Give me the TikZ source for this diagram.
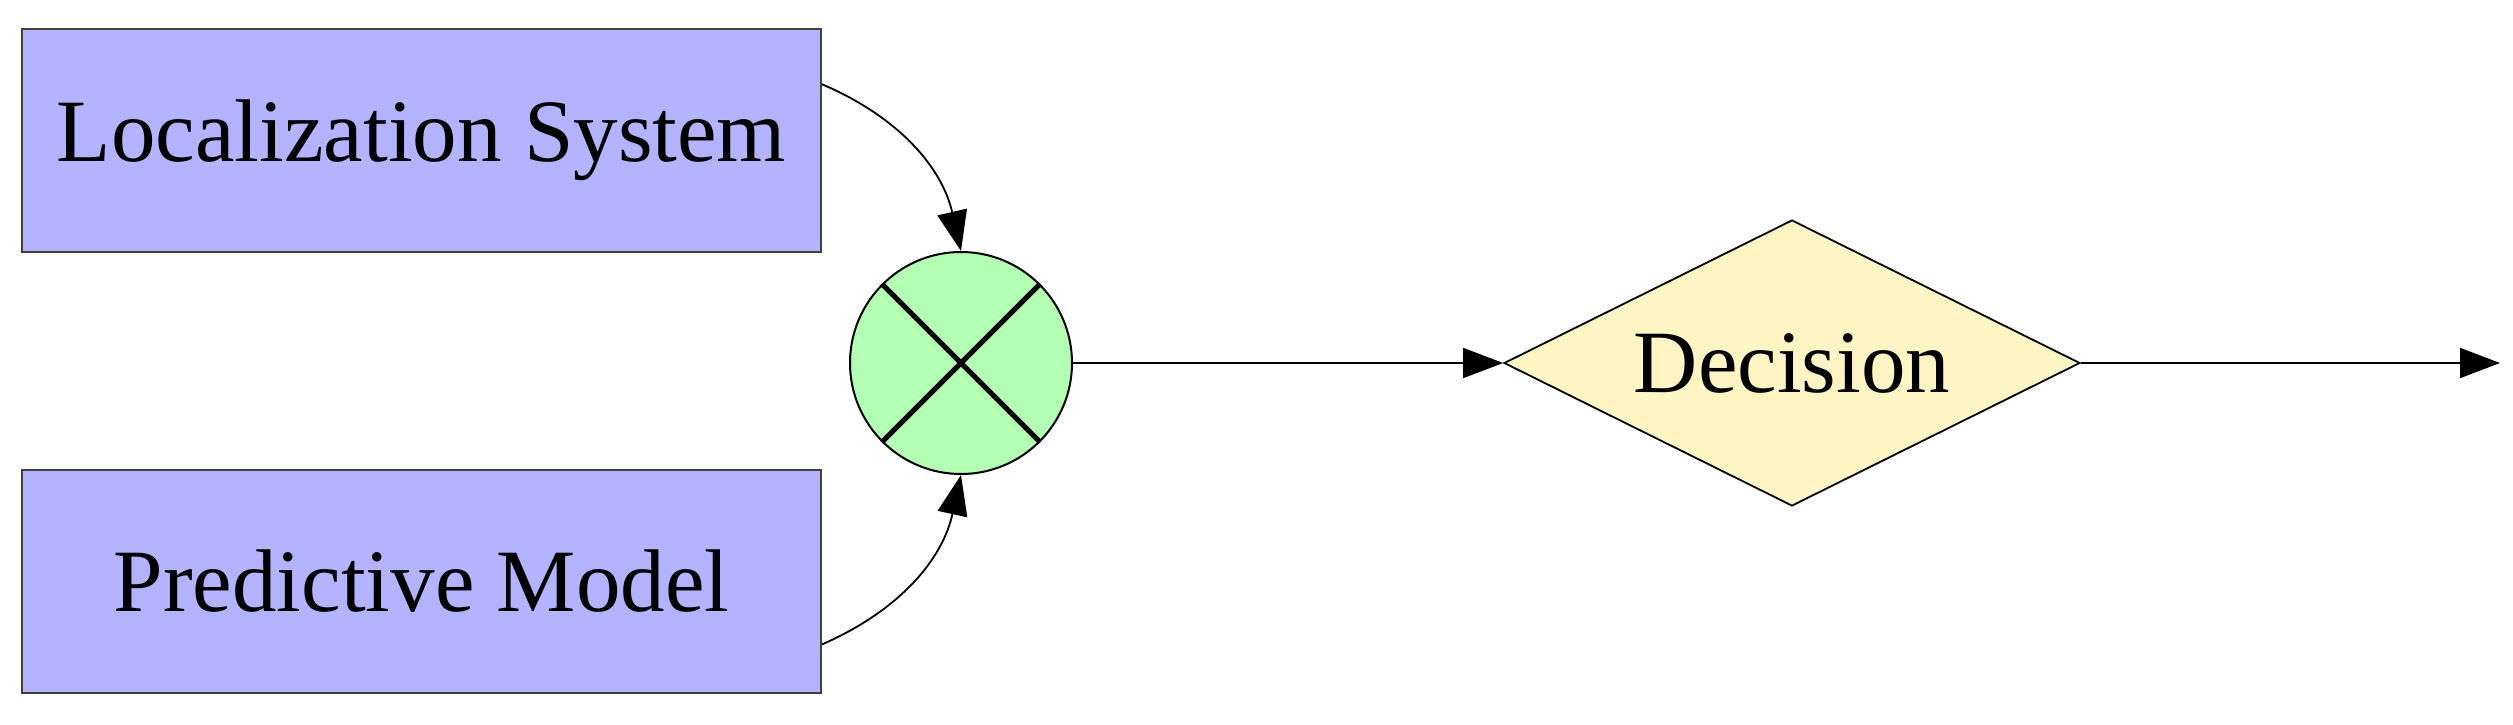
\documentclass[tikz,border=0pt]{standalone}
\usepackage{fontspec}
\setmainfont{Liberation Serif}
\usetikzlibrary{arrows.meta,shapes.geometric}
\definecolor{boxblue}{RGB}{179,179,255}
\definecolor{mixgreen}{RGB}{179,255,179}
\definecolor{decyellow}{RGB}{255,245,196}
\tikzset{
  every node/.style={font=\fontsize{44.5}{50}\selectfont},
  blockbox/.style={draw=black!75, line width=1pt, fill=boxblue, rectangle,
    minimum width=399.5pt, minimum height=111.5pt, inner sep=0pt},
  mixer/.style={draw=black, line width=1pt, fill=mixgreen, circle,
    minimum size=111pt, inner sep=0pt},
  decbox/.style={draw=black, line width=0.9pt, fill=decyellow, diamond,
    minimum width=288pt, minimum height=143pt, inner sep=0pt, aspect=2},
  conn/.style={line width=0.9pt, -{Triangle[length=20pt,width=15pt]}},
}
\begin{document}
\begin{tikzpicture}[x=0.5pt,y=-0.5pt]
\useasboundingbox (0,0) rectangle (2513,724);
\node[blockbox] (loc) at (421.5,140.5) {Localization System};
\node[blockbox] (pred) at (421.5,581) {Predictive Model};
\node[mixer] (mix) at (961,363) {};
\draw[line width=2.5pt] (mix.45) -- (mix.225) (mix.135) -- (mix.315);
\node[decbox] (dec) at (1792,363) {Decision};
\coordinate (out) at (2500,363);
\draw[conn] (loc.8.75) to[bend left=27] (mix.north);
\draw[conn] (pred.-9.4) to[bend right=27] (mix.south);
\draw[conn] (mix.east) -- (dec.west);
\draw[conn] (dec.east) -- (out);
\end{tikzpicture}
\end{document}
